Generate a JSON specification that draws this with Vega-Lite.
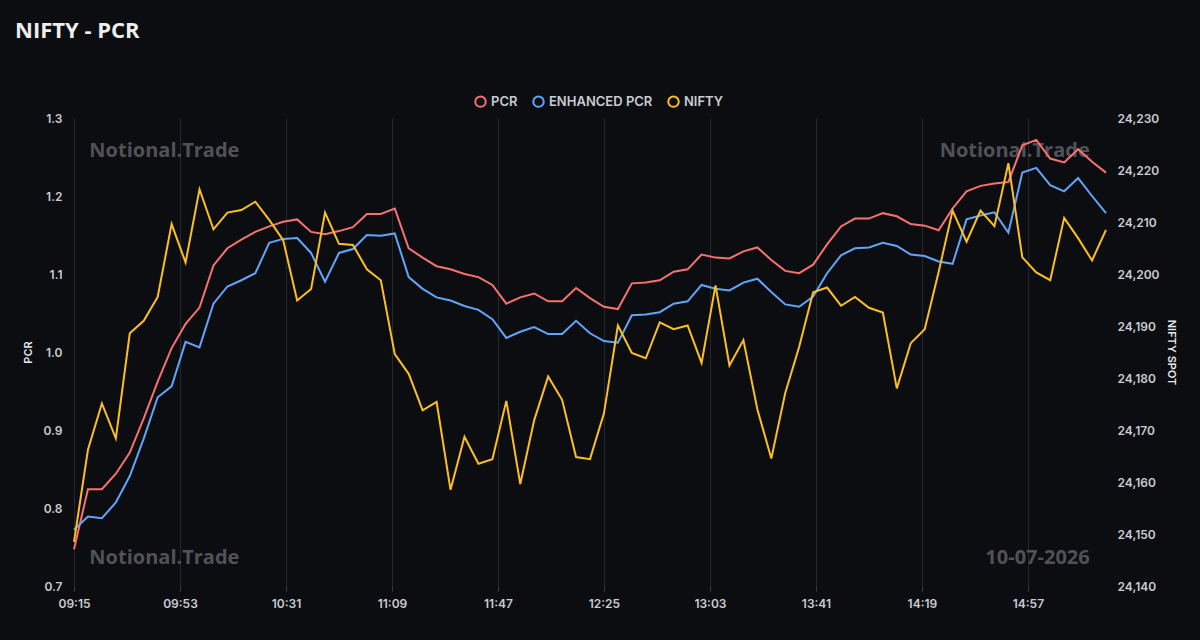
{
  "$schema": "https://vega.github.io/schema/vega-lite/v6.json",
  "width": 1032,
  "height": 468,
  "autosize": {"type": "none"},
  "padding": {"left": 74, "top": 118, "right": 94, "bottom": 54},
  "background": "#0c0d10",
  "title": {
    "text": "NIFTY - PCR",
    "anchor": "start",
    "frame": "group",
    "dx": -59,
    "offset": 52,
    "font": "Open Sans",
    "fontSize": 22,
    "fontWeight": 700,
    "color": "#eceef0"
  },
  "config": {
    "view": {"stroke": null},
    "axis": {
      "labelFont": "Inter",
      "labelFontSize": 12,
      "labelFontWeight": 600,
      "labelColor": "#c8ccd2",
      "titleFont": "Inter",
      "titleFontSize": 11,
      "titleFontWeight": 600,
      "titleColor": "#e5e7eb",
      "domain": false
    }
  },
  "data": {
    "values": [
      {"t": "2026-07-10T09:15:00", "pcr": 0.747, "epcr": 0.772, "nifty": 24148.5},
      {"t": "2026-07-10T09:20:00", "pcr": 0.824, "epcr": 0.789, "nifty": 24166.2},
      {"t": "2026-07-10T09:25:00", "pcr": 0.824, "epcr": 0.787, "nifty": 24175.1},
      {"t": "2026-07-10T09:30:00", "pcr": 0.844, "epcr": 0.807, "nifty": 24168.4},
      {"t": "2026-07-10T09:35:00", "pcr": 0.871, "epcr": 0.841, "nifty": 24188.6},
      {"t": "2026-07-10T09:40:00", "pcr": 0.915, "epcr": 0.889, "nifty": 24191.0},
      {"t": "2026-07-10T09:45:00", "pcr": 0.962, "epcr": 0.942, "nifty": 24195.6},
      {"t": "2026-07-10T09:50:00", "pcr": 1.005, "epcr": 0.956, "nifty": 24209.6},
      {"t": "2026-07-10T09:55:00", "pcr": 1.036, "epcr": 1.013, "nifty": 24202.2},
      {"t": "2026-07-10T10:00:00", "pcr": 1.057, "epcr": 1.006, "nifty": 24216.3},
      {"t": "2026-07-10T10:05:00", "pcr": 1.111, "epcr": 1.062, "nifty": 24208.6},
      {"t": "2026-07-10T10:10:00", "pcr": 1.133, "epcr": 1.084, "nifty": 24211.8},
      {"t": "2026-07-10T10:15:00", "pcr": 1.144, "epcr": 1.092, "nifty": 24212.3},
      {"t": "2026-07-10T10:20:00", "pcr": 1.154, "epcr": 1.101, "nifty": 24213.9},
      {"t": "2026-07-10T10:25:00", "pcr": 1.161, "epcr": 1.140, "nifty": 24210.4},
      {"t": "2026-07-10T10:30:00", "pcr": 1.167, "epcr": 1.145, "nifty": 24206.5},
      {"t": "2026-07-10T10:35:00", "pcr": 1.170, "epcr": 1.146, "nifty": 24194.9},
      {"t": "2026-07-10T10:40:00", "pcr": 1.154, "epcr": 1.127, "nifty": 24197.1},
      {"t": "2026-07-10T10:45:00", "pcr": 1.151, "epcr": 1.090, "nifty": 24211.8},
      {"t": "2026-07-10T10:50:00", "pcr": 1.155, "epcr": 1.127, "nifty": 24205.8},
      {"t": "2026-07-10T10:55:00", "pcr": 1.160, "epcr": 1.132, "nifty": 24205.6},
      {"t": "2026-07-10T11:00:00", "pcr": 1.177, "epcr": 1.150, "nifty": 24200.9},
      {"t": "2026-07-10T11:05:00", "pcr": 1.177, "epcr": 1.149, "nifty": 24198.8},
      {"t": "2026-07-10T11:10:00", "pcr": 1.184, "epcr": 1.152, "nifty": 24184.6},
      {"t": "2026-07-10T11:15:00", "pcr": 1.133, "epcr": 1.096, "nifty": 24180.8},
      {"t": "2026-07-10T11:20:00", "pcr": 1.121, "epcr": 1.081, "nifty": 24173.8},
      {"t": "2026-07-10T11:25:00", "pcr": 1.110, "epcr": 1.070, "nifty": 24175.4},
      {"t": "2026-07-10T11:30:00", "pcr": 1.106, "epcr": 1.066, "nifty": 24158.5},
      {"t": "2026-07-10T11:35:00", "pcr": 1.100, "epcr": 1.059, "nifty": 24168.7},
      {"t": "2026-07-10T11:40:00", "pcr": 1.096, "epcr": 1.054, "nifty": 24163.5},
      {"t": "2026-07-10T11:45:00", "pcr": 1.086, "epcr": 1.042, "nifty": 24164.4},
      {"t": "2026-07-10T11:50:00", "pcr": 1.062, "epcr": 1.018, "nifty": 24175.6},
      {"t": "2026-07-10T11:55:00", "pcr": 1.070, "epcr": 1.026, "nifty": 24159.6},
      {"t": "2026-07-10T12:00:00", "pcr": 1.075, "epcr": 1.032, "nifty": 24171.9},
      {"t": "2026-07-10T12:05:00", "pcr": 1.065, "epcr": 1.023, "nifty": 24180.3},
      {"t": "2026-07-10T12:10:00", "pcr": 1.065, "epcr": 1.023, "nifty": 24175.8},
      {"t": "2026-07-10T12:15:00", "pcr": 1.082, "epcr": 1.040, "nifty": 24164.8},
      {"t": "2026-07-10T12:20:00", "pcr": 1.069, "epcr": 1.024, "nifty": 24164.4},
      {"t": "2026-07-10T12:25:00", "pcr": 1.058, "epcr": 1.014, "nifty": 24173.2},
      {"t": "2026-07-10T12:30:00", "pcr": 1.055, "epcr": 1.012, "nifty": 24190.1},
      {"t": "2026-07-10T12:35:00", "pcr": 1.088, "epcr": 1.047, "nifty": 24184.8},
      {"t": "2026-07-10T12:40:00", "pcr": 1.089, "epcr": 1.048, "nifty": 24183.8},
      {"t": "2026-07-10T12:45:00", "pcr": 1.092, "epcr": 1.051, "nifty": 24190.7},
      {"t": "2026-07-10T12:50:00", "pcr": 1.103, "epcr": 1.062, "nifty": 24189.4},
      {"t": "2026-07-10T12:55:00", "pcr": 1.106, "epcr": 1.065, "nifty": 24190.1},
      {"t": "2026-07-10T13:00:00", "pcr": 1.125, "epcr": 1.086, "nifty": 24182.9},
      {"t": "2026-07-10T13:05:00", "pcr": 1.121, "epcr": 1.081, "nifty": 24197.8},
      {"t": "2026-07-10T13:10:00", "pcr": 1.120, "epcr": 1.079, "nifty": 24182.4},
      {"t": "2026-07-10T13:15:00", "pcr": 1.129, "epcr": 1.089, "nifty": 24187.3},
      {"t": "2026-07-10T13:20:00", "pcr": 1.134, "epcr": 1.094, "nifty": 24174.0},
      {"t": "2026-07-10T13:25:00", "pcr": 1.118, "epcr": 1.077, "nifty": 24164.5},
      {"t": "2026-07-10T13:30:00", "pcr": 1.104, "epcr": 1.061, "nifty": 24177.1},
      {"t": "2026-07-10T13:35:00", "pcr": 1.101, "epcr": 1.058, "nifty": 24186.0},
      {"t": "2026-07-10T13:40:00", "pcr": 1.112, "epcr": 1.071, "nifty": 24196.5},
      {"t": "2026-07-10T13:45:00", "pcr": 1.138, "epcr": 1.101, "nifty": 24197.4},
      {"t": "2026-07-10T13:50:00", "pcr": 1.161, "epcr": 1.124, "nifty": 24193.9},
      {"t": "2026-07-10T13:55:00", "pcr": 1.171, "epcr": 1.133, "nifty": 24195.6},
      {"t": "2026-07-10T14:00:00", "pcr": 1.171, "epcr": 1.134, "nifty": 24193.5},
      {"t": "2026-07-10T14:05:00", "pcr": 1.178, "epcr": 1.140, "nifty": 24192.6},
      {"t": "2026-07-10T14:10:00", "pcr": 1.174, "epcr": 1.136, "nifty": 24178.0},
      {"t": "2026-07-10T14:15:00", "pcr": 1.164, "epcr": 1.125, "nifty": 24186.7},
      {"t": "2026-07-10T14:20:00", "pcr": 1.162, "epcr": 1.123, "nifty": 24189.4},
      {"t": "2026-07-10T14:25:00", "pcr": 1.156, "epcr": 1.116, "nifty": 24200.4},
      {"t": "2026-07-10T14:30:00", "pcr": 1.184, "epcr": 1.113, "nifty": 24212.2},
      {"t": "2026-07-10T14:35:00", "pcr": 1.206, "epcr": 1.170, "nifty": 24206.2},
      {"t": "2026-07-10T14:40:00", "pcr": 1.213, "epcr": 1.175, "nifty": 24212.2},
      {"t": "2026-07-10T14:45:00", "pcr": 1.216, "epcr": 1.179, "nifty": 24209.2},
      {"t": "2026-07-10T14:50:00", "pcr": 1.218, "epcr": 1.153, "nifty": 24221.3},
      {"t": "2026-07-10T14:55:00", "pcr": 1.265, "epcr": 1.230, "nifty": 24203.2},
      {"t": "2026-07-10T15:00:00", "pcr": 1.272, "epcr": 1.236, "nifty": 24200.3},
      {"t": "2026-07-10T15:05:00", "pcr": 1.248, "epcr": 1.214, "nifty": 24198.8},
      {"t": "2026-07-10T15:10:00", "pcr": 1.243, "epcr": 1.206, "nifty": 24210.8},
      {"t": "2026-07-10T15:15:00", "pcr": 1.260, "epcr": 1.223, "nifty": 24206.9},
      {"t": "2026-07-10T15:20:00", "pcr": 1.244, "epcr": 1.200, "nifty": 24202.6},
      {"t": "2026-07-10T15:25:00", "pcr": 1.230, "epcr": 1.178, "nifty": 24208.5}
    ]
  },
  "layer": [
    {
      "layer": [
        {
          "data": {"values": [{}]},
          "mark": {"type": "text", "text": "Notional.Trade", "align": "left", "baseline": "middle", "font": "Open Sans", "fontSize": 20, "fontWeight": 700, "color": "#505257"},
          "encoding": {
            "x": {"datum": {"year": 2026, "month": 7, "date": 10, "hours": 9, "minutes": 20, "seconds": 30}, "type": "temporal"},
            "y": {"datum": 1.258, "type": "quantitative"}
          }
        },
        {
          "data": {"values": [{}]},
          "mark": {"type": "text", "text": "Notional.Trade", "align": "right", "baseline": "middle", "font": "Open Sans", "fontSize": 20, "fontWeight": 700, "color": "#505257"},
          "encoding": {
            "x": {"datum": {"year": 2026, "month": 7, "date": 10, "hours": 15, "minutes": 19, "seconds": 10}, "type": "temporal"},
            "y": {"datum": 1.258, "type": "quantitative"}
          }
        },
        {
          "data": {"values": [{}]},
          "mark": {"type": "text", "text": "Notional.Trade", "align": "left", "baseline": "middle", "font": "Open Sans", "fontSize": 20, "fontWeight": 700, "color": "#505257"},
          "encoding": {
            "x": {"datum": {"year": 2026, "month": 7, "date": 10, "hours": 9, "minutes": 20, "seconds": 30}, "type": "temporal"},
            "y": {"datum": 0.736, "type": "quantitative"}
          }
        },
        {
          "data": {"values": [{}]},
          "mark": {"type": "text", "text": "10-07-2026", "align": "right", "baseline": "middle", "font": "Open Sans", "fontSize": 20, "fontWeight": 700, "color": "#505257"},
          "encoding": {
            "x": {"datum": {"year": 2026, "month": 7, "date": 10, "hours": 15, "minutes": 19, "seconds": 10}, "type": "temporal"},
            "y": {"datum": 0.736, "type": "quantitative"}
          }
        },
        {
          "transform": [{"fold": ["pcr", "epcr"], "as": ["series", "value"]}],
          "mark": {"type": "line", "strokeWidth": 2, "interpolate": "linear"},
          "encoding": {
            "x": {
              "field": "t",
              "type": "temporal",
              "scale": {
                "domain": [
                  {"year": 2026, "month": 7, "date": 10, "hours": 9, "minutes": 15},
                  {"year": 2026, "month": 7, "date": 10, "hours": 15, "minutes": 25}
                ],
                "nice": false
              },
              "axis": {
                "title": null,
                "format": "%H:%M",
                "values": [
                  {"year": 2026, "month": 7, "date": 10, "hours": 9, "minutes": 15},
                  {"year": 2026, "month": 7, "date": 10, "hours": 9, "minutes": 53},
                  {"year": 2026, "month": 7, "date": 10, "hours": 10, "minutes": 31},
                  {"year": 2026, "month": 7, "date": 10, "hours": 11, "minutes": 9},
                  {"year": 2026, "month": 7, "date": 10, "hours": 11, "minutes": 47},
                  {"year": 2026, "month": 7, "date": 10, "hours": 12, "minutes": 25},
                  {"year": 2026, "month": 7, "date": 10, "hours": 13, "minutes": 3},
                  {"year": 2026, "month": 7, "date": 10, "hours": 13, "minutes": 41},
                  {"year": 2026, "month": 7, "date": 10, "hours": 14, "minutes": 19},
                  {"year": 2026, "month": 7, "date": 10, "hours": 14, "minutes": 57}
                ],
                "grid": true,
                "gridColor": "#25282e",
                "gridWidth": 1,
                "ticks": true,
                "tickColor": "#3a3d44",
                "tickSize": 5,
                "labelPadding": 7,
                "labelFlush": false
              }
            },
            "y": {
              "field": "value",
              "type": "quantitative",
              "scale": {"domain": [0.7, 1.3], "nice": false, "zero": false},
              "axis": {
                "title": "PCR",
                "values": [0.7, 0.8, 0.9, 1.0, 1.1, 1.2, 1.3],
                "format": ".1f",
                "grid": false,
                "ticks": false,
                "labelPadding": 12,
                "titlePadding": 10
              }
            },
            "color": {
              "field": "series",
              "type": "nominal",
              "scale": {"domain": ["pcr", "epcr", "nifty"], "range": ["#f87171", "#60a5fa", "#fbbf24"]},
              "legend": {
                "orient": "none",
                "legendX": 400,
                "legendY": -23,
                "direction": "horizontal",
                "title": null,
                "symbolType": "circle",
                "symbolSize": 110,
                "symbolStrokeWidth": 2,
                "symbolFillColor": "transparent",
                "labelFont": "Inter",
                "labelFontSize": 13,
                "labelFontWeight": 600,
                "labelColor": "#c8ccd2",
                "labelOffset": 4,
                "columnPadding": 11,
                "labelExpr": "datum.label == 'pcr' ? 'PCR' : datum.label == 'epcr' ? 'ENHANCED PCR' : 'NIFTY'"
              }
            }
          }
        }
      ]
    },
    {
      "transform": [{"fold": ["nifty"], "as": ["series", "value"]}],
      "mark": {"type": "line", "strokeWidth": 2, "interpolate": "linear"},
      "encoding": {
        "x": {"field": "t", "type": "temporal"},
        "y": {
          "field": "value",
          "type": "quantitative",
          "scale": {"domain": [24140, 24230], "nice": false, "zero": false},
          "axis": {
            "orient": "right",
            "title": "NIFTY SPOT",
            "values": [24140, 24150, 24160, 24170, 24180, 24190, 24200, 24210, 24220, 24230],
            "format": ",.0f",
            "grid": false,
            "ticks": false,
            "labelPadding": 11,
            "titlePadding": 6
          }
        },
        "color": {"field": "series", "type": "nominal"}
      }
    }
  ],
  "resolve": {"scale": {"y": "independent"}}
}
